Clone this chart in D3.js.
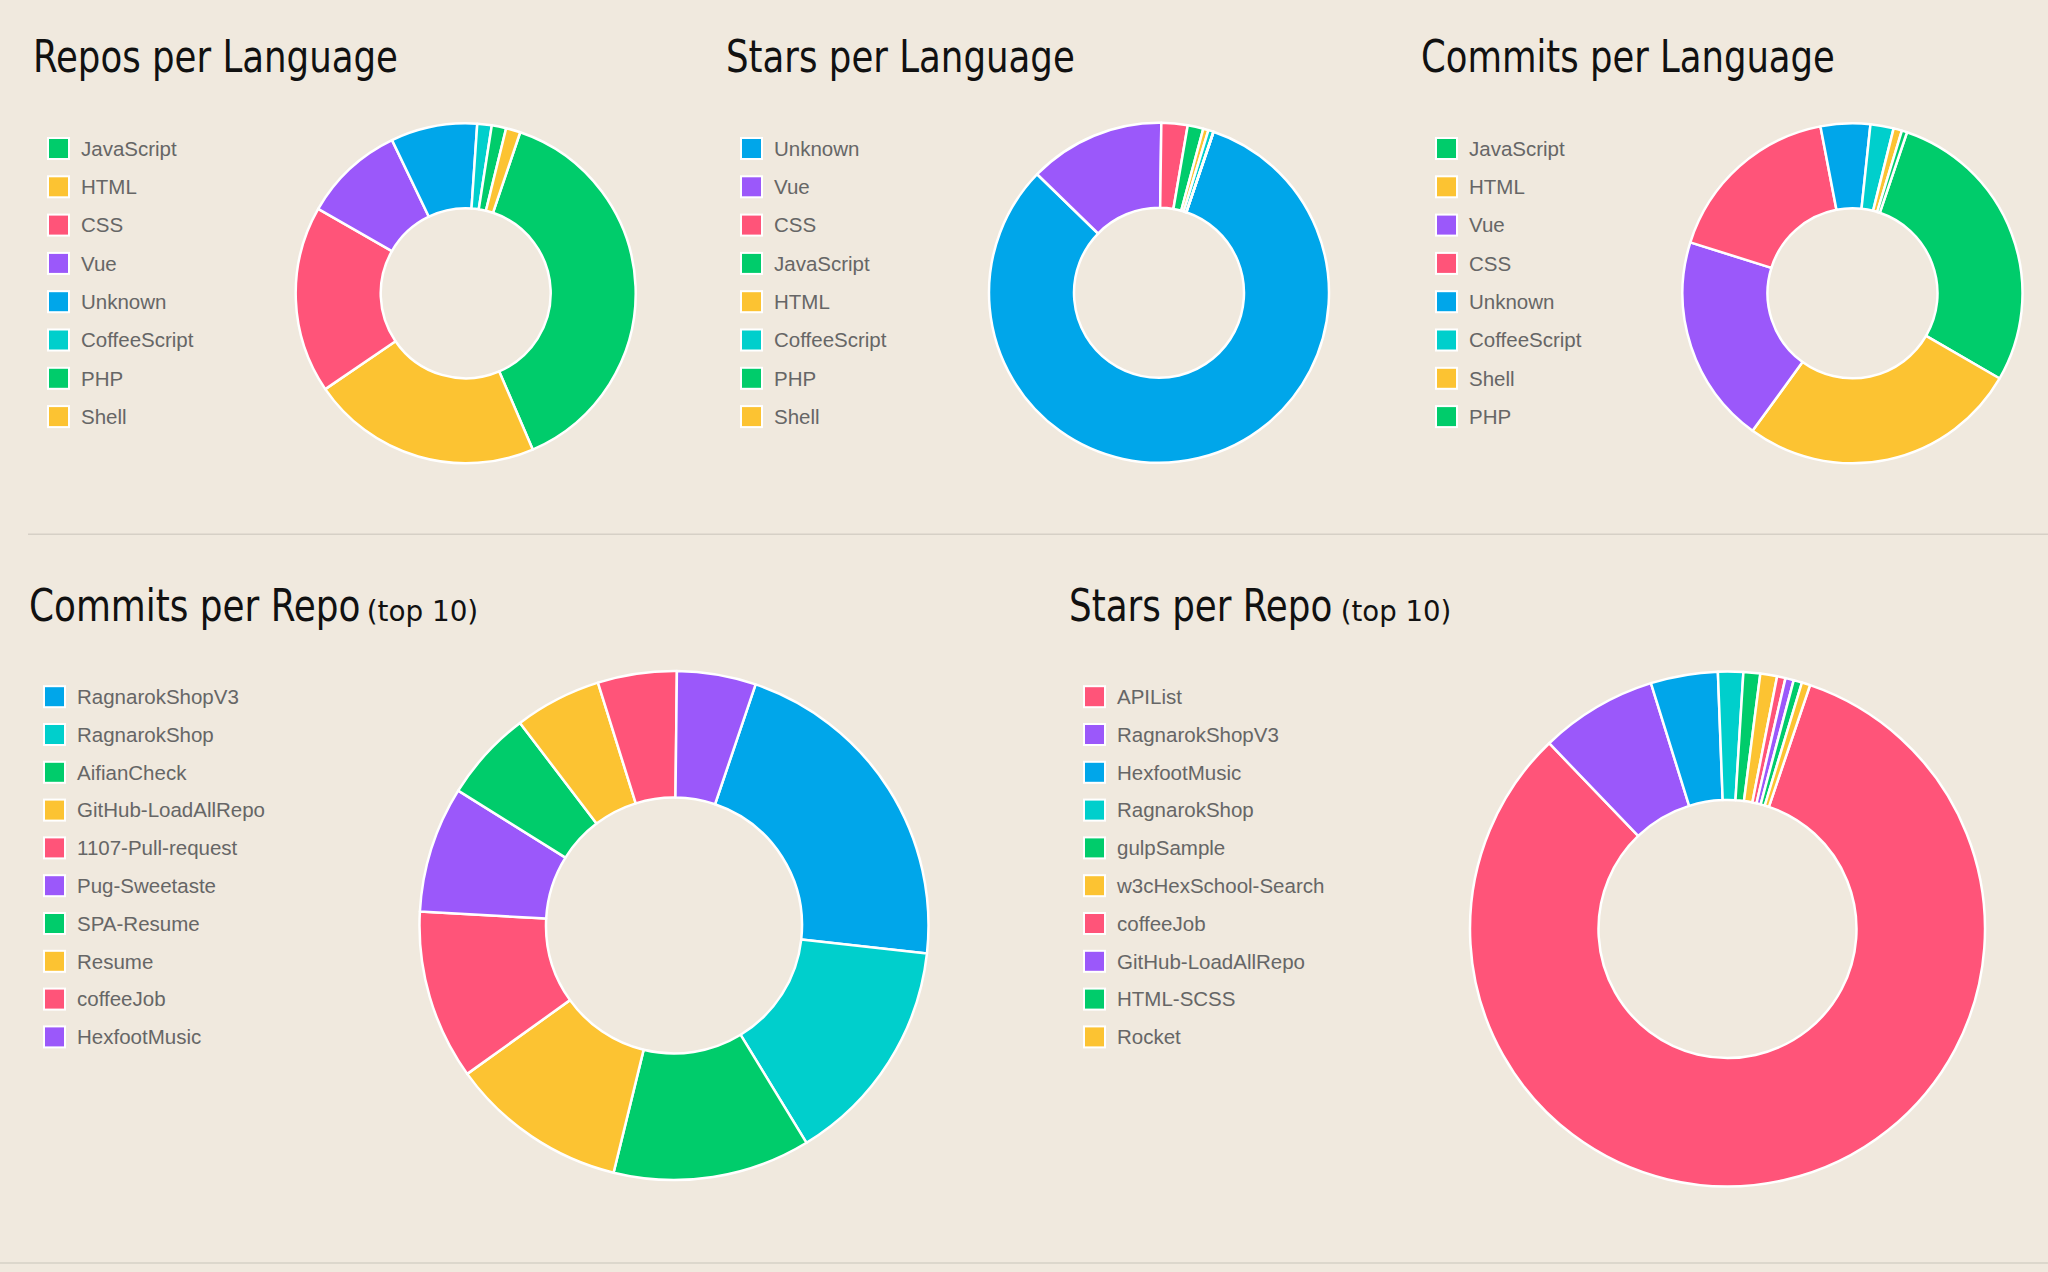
<!DOCTYPE html>
<html>
<head>
<meta charset="utf-8">
<script src="https://cdn.jsdelivr.net/npm/d3@7"></script>
<style>
  html, body { margin: 0; padding: 0; background: #F0E9DE; }
  svg { display: block; }
  .title { font-family: "Liberation Sans Narrow", "DejaVu Sans Condensed", "Roboto", sans-serif; font-stretch: condensed; fill: #111; }
  .legend text { font-family: "Liberation Sans", Arial, "Helvetica Neue", sans-serif; fill: #666; font-size: 20.5px; }
</style>
</head>
<body>
<svg id="chart" width="2048" height="1272"></svg>
<script>
// ---------------- DATA ----------------
const reposLangLabels = ["JavaScript", "HTML", "CSS", "Vue", "Unknown", "CoffeeScript", "PHP", "Shell"];
const reposLangValues = [28, 16, 13, 7, 6, 1, 1, 1];

const starsLangLabels = ["Unknown", "Vue", "CSS", "JavaScript", "HTML", "CoffeeScript", "PHP", "Shell"];
const starsLangValues = [165, 26, 5, 3, 1, 1, 0, 0];

const commitsLangLabels = ["JavaScript", "HTML", "Vue", "CSS", "Unknown", "CoffeeScript", "Shell", "PHP"];
const commitsLangValues = [281, 266, 198, 171, 47, 22, 8, 5];

const commitsRepoLabels = ["RagnarokShopV3", "RagnarokShop", "AifianCheck", "GitHub-LoadAllRepo", "1107-Pull-request", "Pug-Sweetaste", "SPA-Resume", "Resume", "coffeeJob", "HexfootMusic"];
const commitsRepoValues = [86, 58, 50, 45, 43, 32, 23, 22, 20, 20];

const starsRepoLabels = ["APIList", "RagnarokShopV3", "HexfootMusic", "RagnarokShop", "gulpSample", "w3cHexSchool-Search", "coffeeJob", "GitHub-LoadAllRepo", "HTML-SCSS", "Rocket"];
const starsRepoValues = [157, 14, 8, 3, 2, 2, 1, 1, 1, 1];

const titles = ["Repos per Language", "Stars per Language", "Commits per Language", "Commits per Repo", "Stars per Repo"];
const titleSuffix = "(top 10)";

// ---------------- STYLE ----------------
const GREEN = "#00CC6B", YELLOW = "#FCC332", PINK = "#FF5479", PURPLE = "#9B58FA", BLUE = "#00A6EA", CYAN = "#00CFCC";
const langColor = { JavaScript: GREEN, HTML: YELLOW, CSS: PINK, Vue: PURPLE, Unknown: BLUE, CoffeeScript: CYAN, PHP: GREEN, Shell: YELLOW };
const commitsRepoColors = [BLUE, CYAN, GREEN, YELLOW, PINK, PURPLE, GREEN, YELLOW, PINK, PURPLE];
const starsRepoColors = [PINK, PURPLE, BLUE, CYAN, GREEN, YELLOW, PINK, PURPLE, GREEN, YELLOW];

const START = 18.7 * Math.PI / 180;

const svg = d3.select("#chart");
svg.append("rect").attr("width", 2048).attr("height", 1272).attr("fill", "#F0E9DE");

// dividers
svg.append("line").attr("x1", 28).attr("x2", 2048).attr("y1", 534.3).attr("y2", 534.3)
  .attr("stroke", "#d6d0c6").attr("stroke-width", 1.6);
svg.append("line").attr("x1", 0).attr("x2", 2048).attr("y1", 1263).attr("y2", 1263)
  .attr("stroke", "#d6d0c6").attr("stroke-width", 1.6);

// text squeezed horizontally to a target width via a transform (keeps bbox honest)
function fittedText(parent, str, x, y, size, width) {
  const t = parent.append("text").attr("class", "title").attr("font-size", size).text(str);
  const natural = t.node().getComputedTextLength();
  const sx = natural > 0 ? width / natural : 1;
  t.attr("transform", `translate(${x},${y}) scale(${sx},1)`);
  return t;
}

function panel(cfg) {
  const g = svg.append("g");
  fittedText(g, cfg.title, cfg.tx, cfg.ty, 44, cfg.tw);
  if (cfg.suffix) fittedText(g, cfg.suffix, cfg.sx, cfg.ty, 29, cfg.sw);

  // legend
  const leg = g.append("g").attr("class", "legend");
  const color = i => cfg.colors[i];
  const items = leg.selectAll("g.item").data(cfg.labels).enter().append("g").attr("class", "item")
    .attr("transform", (d, i) => `translate(${cfg.tx + 15},${cfg.ly + i * cfg.ldy})`);
  items.append("rect").attr("x", 0).attr("y", -10.5).attr("width", 21).attr("height", 21)
    .attr("fill", (d, i) => color(i)).attr("stroke", "#fff").attr("stroke-width", 2);
  items.append("text").attr("x", 33).attr("y", 0).attr("dy", "0.36em").text(d => d);

  // donut
  const pie = d3.pie().sort(null).value(d => d).startAngle(START).endAngle(START + 2 * Math.PI);
  const arc = d3.arc().innerRadius(cfg.ri).outerRadius(cfg.ro);
  const dg = g.append("g").attr("transform", `translate(${cfg.cx},${cfg.cy})`);
  dg.selectAll("path").data(pie(cfg.values)).enter().append("path")
    .attr("d", arc)
    .attr("fill", (d, i) => color(i))
    .attr("stroke", "#fff").attr("stroke-width", 2.5).attr("stroke-linejoin", "round");
}

panel({ title: titles[0], tx: 33, ty: 72, tw: 365, labels: reposLangLabels, values: reposLangValues,
  colors: reposLangLabels.map(l => langColor[l]), ly: 148.5, ldy: 38.3, cx: 465.7, cy: 293.3, ro: 170, ri: 85 });
panel({ title: titles[1], tx: 726, ty: 72, tw: 349, labels: starsLangLabels, values: starsLangValues,
  colors: starsLangLabels.map(l => langColor[l]), ly: 148.5, ldy: 38.3, cx: 1159, cy: 292.8, ro: 170, ri: 85 });
panel({ title: titles[2], tx: 1421, ty: 72, tw: 414, labels: commitsLangLabels, values: commitsLangValues,
  colors: commitsLangLabels.map(l => langColor[l]), ly: 148.5, ldy: 38.3, cx: 1852.5, cy: 293.3, ro: 170, ri: 85 });
panel({ title: titles[3], tx: 29, ty: 620.5, tw: 331.6, suffix: titleSuffix, sx: 366.7, sw: 111.6,
  labels: commitsRepoLabels, values: commitsRepoValues, colors: commitsRepoColors,
  ly: 696.7, ldy: 37.8, cx: 674, cy: 925.5, ro: 254.5, ri: 128 });
panel({ title: titles[4], tx: 1069, ty: 620.5, tw: 263.4, suffix: titleSuffix, sx: 1340.8, sw: 110.5,
  labels: starsRepoLabels, values: starsRepoValues, colors: starsRepoColors,
  ly: 696.7, ldy: 37.8, cx: 1727.5, cy: 929, ro: 257.5, ri: 129 });
</script>
</body>
</html>
